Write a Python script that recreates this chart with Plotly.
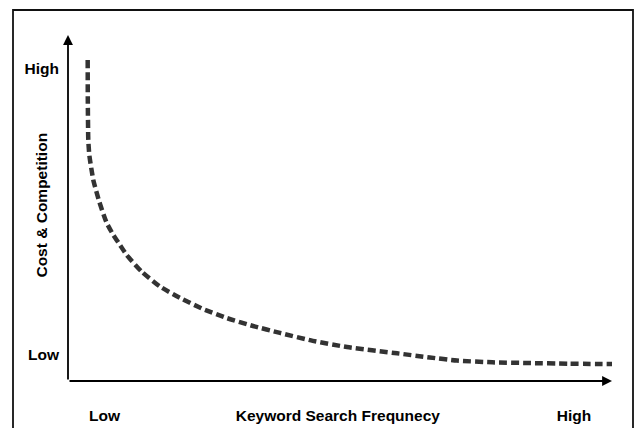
import plotly.graph_objects as go

# Curve (x: 0-100 along frequency, y: 0-100 along cost)
freq = [3.62, 3.64, 3.73, 3.92, 4.65, 5.75, 7.11, 8.33, 9.56, 10.79, 13.55, 16.91, 20.59,
        24.82, 29.17, 34.01, 38.97, 45.0, 51.3, 60.5, 66.5, 71.5, 78.0, 84.4, 92.0, 100.0]
cost = [92.8, 81.2, 69.7, 65.3, 58.1, 51.8, 45.7, 42.2, 39.3, 36.4, 31.6, 27.3, 24.0,
        20.8, 18.2, 15.9, 13.9, 11.6, 9.8, 8.0, 6.8, 5.9, 5.4, 5.2, 5.0, 4.9]

y_tick_vals = [7.5, 90.2]
y_tick_text = ["Low", "High"]
x_tick_vals = [6.7, 49.6, 93.0]
x_tick_text = ["Low", "Keyword Search Frequnecy", "High"]
y_title = "Cost & Competition"

FONT = dict(family="Liberation Sans, Arial, sans-serif", size=15.5, color="black")

fig = go.Figure()
fig.add_trace(go.Scatter(
    x=freq, y=cost, mode="lines",
    line=dict(color="#333333", width=4.5, dash="8px,4px", shape="spline", smoothing=0.5),
    hoverinfo="skip", showlegend=False,
))

# axes with arrows
fig.add_annotation(x=0, y=100, ax=0, ay=0, xref="x", yref="y", axref="x", ayref="y",
                   showarrow=True, arrowhead=2, arrowsize=1.1, arrowwidth=1.8,
                   arrowcolor="black", text="")
fig.add_annotation(x=100, y=0, ax=0, ay=0, xref="x", yref="y", axref="x", ayref="y",
                   showarrow=True, arrowhead=2, arrowsize=1.1, arrowwidth=1.8,
                   arrowcolor="black", text="")

# y title
fig.add_annotation(x=-0.0478, y=0.51, xref="paper", yref="paper", text="<b>" + y_title + "</b>",
                   textangle=-90, showarrow=False, font=FONT, xanchor="center", yanchor="middle")

# outer frame
fig.add_shape(type="rect", xref="paper", yref="paper",
              x0=-0.1011, x1=1.0386, y0=-0.2, y1=1.0723,
              line=dict(color="#111111", width=1.8), fillcolor="rgba(0,0,0,0)", layer="below")

fig.update_layout(
    width=635, height=428,
    margin=dict(l=68, r=23, t=35, b=47, autoexpand=False),
    paper_bgcolor="white", plot_bgcolor="white",
    font=FONT,
    xaxis=dict(range=[0, 100], showgrid=False, zeroline=False, showline=False, automargin=False,
               tickvals=x_tick_vals, ticktext=["<b>%s</b>" % t for t in x_tick_text],
               ticks="", ticklabelstandoff=23, fixedrange=True),
    yaxis=dict(range=[0, 100], showgrid=False, zeroline=False, showline=False, automargin=False,
               tickvals=y_tick_vals, ticktext=["<b>%s</b>" % t for t in y_tick_text],
               ticks="", ticklabelstandoff=8, fixedrange=True),
)

fig.write_html("out.html", config={"displayModeBar": False},
               post_script="document.body.style.margin='0px';document.body.style.overflow='hidden';")
